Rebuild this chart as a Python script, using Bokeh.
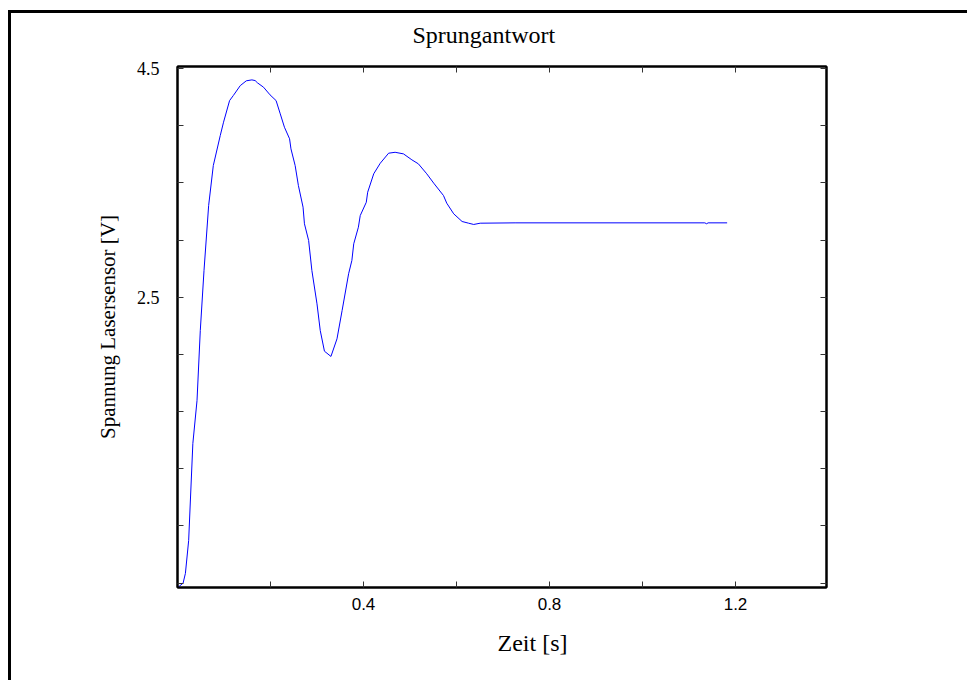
from bokeh.plotting import figure
from bokeh.models import FixedTicker, LinearAxis, Range1d, Title
from bokeh.embed import file_html
from bokeh.resources import INLINE

# ---- data ----
time_s = [0.000, 0.012, 0.017, 0.024, 0.033, 0.042, 0.049, 0.057, 0.067, 0.077,
          0.092, 0.099, 0.112, 0.120, 0.135, 0.148, 0.160, 0.167, 0.172, 0.185,
          0.199, 0.212, 0.221, 0.230, 0.241, 0.244, 0.253, 0.260, 0.270, 0.273,
          0.282, 0.289, 0.300, 0.307, 0.316, 0.330, 0.343, 0.354, 0.368, 0.375,
          0.379, 0.389, 0.393, 0.406, 0.409, 0.422, 0.436, 0.454, 0.468, 0.486,
          0.504, 0.518, 0.536, 0.551, 0.572, 0.579, 0.594, 0.612, 0.626, 0.637,
          0.651, 0.726, 1.134, 1.138, 1.141, 1.182]
voltage_v = [-0.040, 0.000, 0.085, 0.373, 1.221, 1.597, 2.208, 2.733, 3.302, 3.651,
             3.914, 4.030, 4.219, 4.263, 4.350, 4.392, 4.400, 4.394, 4.374, 4.336,
             4.269, 4.219, 4.103, 3.986, 3.885, 3.797, 3.651, 3.476, 3.287, 3.142,
             2.996, 2.733, 2.442, 2.208, 2.028, 1.982, 2.136, 2.384, 2.705, 2.821,
             2.967, 3.112, 3.214, 3.330, 3.418, 3.579, 3.671, 3.759, 3.767, 3.753,
             3.701, 3.666, 3.579, 3.497, 3.389, 3.322, 3.229, 3.162, 3.147, 3.136,
             3.147, 3.150, 3.150, 3.142, 3.150, 3.150]

# labelled ticks and unlabelled (minor-style) ticks
x_label_ticks = [0.4, 0.8, 1.2]
x_tick_labels = ["0.4", "0.8", "1.2"]
x_other_ticks = [0.2, 0.6, 1.0]
y_label_ticks = [2.5, 4.5]
y_tick_labels = ["2.5", "4.5"]
y_other_ticks = [0.0, 0.5, 1.0, 1.5, 2.0, 3.0, 3.5, 4.0]

title_text = "Sprungantwort"
x_label = "Zeit [s]"
y_label = "Spannung Lasersensor [V]"

SERIF = "Liberation Serif"
SANS = "Liberation Sans"

p = figure(
    frame_width=649, frame_height=521,
    min_border_left=177, min_border_right=141,
    min_border_top=66, min_border_bottom=93,
    x_range=Range1d(0, 1.3957), y_range=Range1d(-0.038, 4.517),
    output_backend="svg", toolbar_location=None,
    x_axis_location=None, y_axis_location=None,
)
# outer page frame (left and top edges only, as in the reference)
p.styles = {
    "background-color": "white",
    "background-image": "linear-gradient(#000, #000), linear-gradient(#000, #000)",
    "background-size": "3px 100%, 100% 3px",
    "background-position": "8px 10px, 8px 10px",
    "background-repeat": "no-repeat",
}
p.grid.visible = False
p.background_fill_color = "white"
p.border_fill_color = None
p.outline_line_color = "black"
p.outline_line_width = 2


def make_axis(major, minor, labels, font, size="17px"):
    ax = LinearAxis(ticker=FixedTicker(ticks=major, minor_ticks=minor))
    ax.axis_line_color = "black"
    ax.axis_line_width = 2
    for kind in ("major", "minor"):
        setattr(ax, kind + "_tick_in", 6)
        setattr(ax, kind + "_tick_out", 0)
        setattr(ax, kind + "_tick_line_color", "#333333")
        setattr(ax, kind + "_tick_line_width", 1)
    if labels:
        ax.major_label_overrides = {t: l for t, l in zip(major, labels)}
    ax.major_label_text_font = font
    ax.major_label_text_color = "black"
    ax.major_label_text_font_size = size
    return ax


bottom = make_axis(x_label_ticks, x_other_ticks, x_tick_labels, SANS)
bottom.major_label_standoff = 10
left = make_axis(y_label_ticks, y_other_ticks, y_tick_labels, SERIF, "18px")
left.major_label_standoff = 18
left.axis_label = y_label
left.axis_label_text_font = SERIF
left.axis_label_text_font_style = "normal"
left.axis_label_text_font_size = "21px"
left.axis_label_text_color = "black"
left.axis_label_standoff = 14
top = make_axis([], x_label_ticks + x_other_ticks, None, SANS)
top.major_label_standoff = 0
right = make_axis([], y_label_ticks + y_other_ticks, None, SERIF)
right.major_label_standoff = 0

p.add_layout(bottom, "below")
p.add_layout(left, "left")
p.add_layout(top, "above")
p.add_layout(right, "right")

p.add_layout(Title(text=x_label, align="left", offset=320, text_font=SERIF,
                   text_font_size="24px", text_font_style="normal",
                   text_color="black", standoff=30), "below")

p.title.text = title_text
p.title.align = "left"
p.title.offset = 235
p.title.text_font = SERIF
p.title.text_font_size = "24px"
p.title.text_font_style = "normal"
p.title.text_color = "black"
p.title.standoff = 37

p.line(time_s, voltage_v, line_color="#0000FF", line_width=1)

open("out.html", "w").write(file_html(p, INLINE))
